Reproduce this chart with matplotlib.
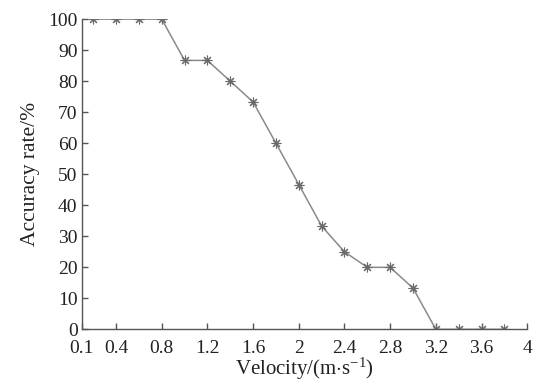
import numpy as np
import matplotlib
matplotlib.use('Agg')
import matplotlib.pyplot as plt

# data
velocity = [0.2, 0.4, 0.6, 0.8, 1.0, 1.2, 1.4, 1.6, 1.8, 2.0,
            2.2, 2.4, 2.6, 2.8, 3.0, 3.2, 3.4, 3.6, 3.8]
accuracy = [100, 100, 100, 100, 86.7, 86.7, 80, 73.3, 60, 46.7,
            33.3, 25, 20, 20, 13.3, 0, 0, 0, 0]

x_ticks = [0.1, 0.4, 0.8, 1.2, 1.6, 2, 2.4, 2.8, 3.2, 3.6, 4]
x_tick_labels = ['0.1', '0.4', '0.8', '1.2', '1.6', '2', '2.4', '2.8', '3.2', '3.6', '4']
y_ticks = list(range(0, 101, 10))

plt.rcParams['font.family'] = ['Liberation Serif', 'DejaVu Serif']
plt.rcParams['mathtext.fontset'] = 'custom'
plt.rcParams['mathtext.rm'] = 'Liberation Serif'
plt.rcParams['mathtext.it'] = 'Liberation Serif:italic'

fig = plt.figure(figsize=(5.38, 3.83), dpi=100)
ax = fig.add_axes([0.152, 0.14, 0.828, 0.81])

ax.plot(velocity, accuracy, color='#8a8a8a', linewidth=1.1,
        marker=(8, 2, 0), markersize=7, markeredgecolor='#6a6a6a',
        markeredgewidth=0.8)

ax.set_xlim(0.1, 4)
ax.set_ylim(0, 100)
ax.set_xticks(x_ticks)
ax.set_xticklabels(x_tick_labels)
ax.set_yticks(y_ticks)

for side in ['top', 'right']:
    ax.spines[side].set_visible(False)
for side in ['left', 'bottom']:
    ax.spines[side].set_color('#555555')
    ax.spines[side].set_linewidth(1.0)

ax.tick_params(direction='in', length=4, width=1.0, color='#555555',
               labelsize=14, labelcolor='#222222')
ax.tick_params(axis='x', pad=7.5)
ax.tick_params(axis='y', pad=3)

ax.set_xlabel(r'Velocity/(m$\cdot$s$^{-1}$)', fontsize=15, color='#222222', labelpad=-0.5)
ax.set_ylabel('Accuracy rate/%', fontsize=15.5, color='#222222', labelpad=6)

fig.savefig('out.png', dpi=100)
